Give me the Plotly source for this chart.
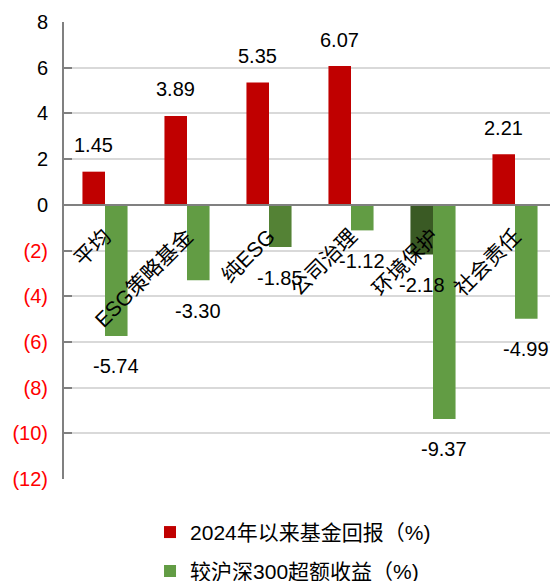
import plotly.graph_objects as go

# Fund categories and the two return series (%)
categories = ["平均", "ESG策略基金", "纯ESG", "公司治理", "环境保护", "社会责任"]
fund_return_2024 = [1.45, 3.89, 5.35, 6.07, -2.18, 2.21]
excess_vs_csi300 = [-5.74, -3.30, -1.85, -1.12, -9.37, -4.99]
y_ticks = [8, 6, 4, 2, 0, -2, -4, -6, -8, -10, -12]

RED = "#C00000"
GREEN = "#629C44"
DARK_GREEN = "#3A5A24"
GREEN_HI = "#548235"
FONT = "Liberation Sans, Arial, Noto Sans CJK SC, sans-serif"

red_colors = [RED if v >= 0 else DARK_GREEN for v in fund_return_2024]
green_colors = [GREEN_HI if c == "纯ESG" else GREEN for c in categories]

fig = go.Figure()
fig.add_trace(go.Bar(
    x=categories, y=fund_return_2024, name="2024年以来基金回报（%)",
    marker=dict(color=red_colors, line=dict(width=0)), legend="legend",
    showlegend=True,
))
fig.add_trace(go.Bar(
    x=categories, y=excess_vs_csi300, name="较沪深300超额收益（%)",
    marker=dict(color=green_colors, line=dict(width=0)), legend="legend2",
    showlegend=True,
))

# value labels, centred over each bar
n = len(categories)
off = 0.1372
annotations = []
for series, shift in ((fund_return_2024, -off), (excess_vs_csi300, off)):
    for i, v in enumerate(series):
        annotations.append(dict(
            x=i + shift, y=v, xref="x", yref="y", text=f"{v:.2f}", showarrow=False,
            yshift=26.5 if v >= 0 else -30.5, xanchor="center", yanchor="middle",
            font=dict(family=FONT, size=20, color="#000000")))


def tick_text(t):
    if t < 0:
        return f"<span style='color:#FF0000'>({abs(t)})</span>"
    return str(t)


legend_style = dict(
    xanchor="left", yanchor="top", bgcolor="rgba(0,0,0,0)",
    font=dict(family=FONT, size=21, color="#000000"),
)

fig.update_layout(
    template="none",
    showlegend=True,
    width=550, height=581,
    margin=dict(l=64, r=0, t=22, b=102, autoexpand=False),
    plot_bgcolor="white", paper_bgcolor="white",
    barmode="group", bargap=0.45, bargroupgap=0,
    font=dict(family=FONT, size=20, color="#000000"),
    annotations=annotations,
    xaxis=dict(
        type="category", range=[-0.5, n - 0.5 - 6 / 82], automargin=False,
        anchor="free", position=0.6,
        showline=True, linecolor="#808080", linewidth=2,
        showgrid=False, ticks="", tickangle=-45,
        tickfont=dict(family=FONT, size=21, color="#000000"),
        ticklabelstandoff=10,
    ),
    yaxis=dict(
        range=[-12, 8], tickvals=y_ticks, ticktext=[tick_text(t) for t in y_ticks],
        automargin=False,
        showline=True, linecolor="#808080", linewidth=2,
        ticks="inside", ticklen=8, tickcolor="#808080", tickwidth=2,
        showgrid=True, gridcolor="#D9D9D9", gridwidth=1.5,
        zeroline=False,
        tickfont=dict(family=FONT, size=20, color="#000000"),
        ticklabelstandoff=10,
    ),
    legend=dict(x=0.177, y=-0.072, **legend_style),
    legend2=dict(x=0.177, y=-0.157, **legend_style),
)

fig.write_html("out.html")
